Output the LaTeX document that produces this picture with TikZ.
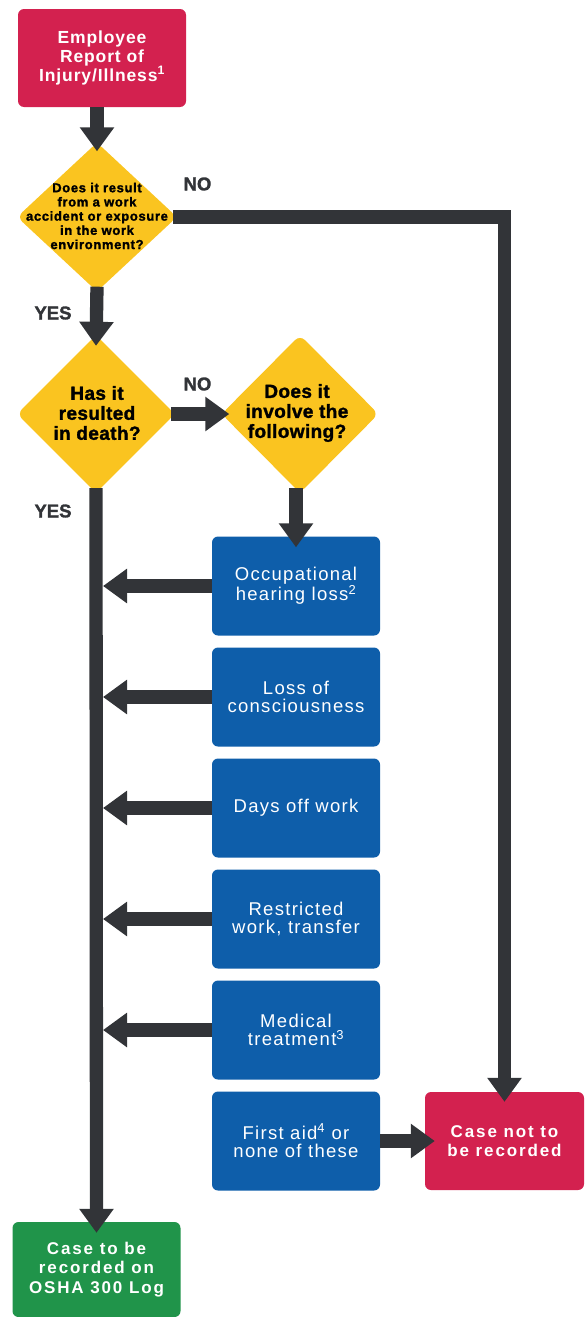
\documentclass[tikz,border=0pt]{standalone}
\usepackage{fontspec}
\setmainfont{Liberation Sans}
\usetikzlibrary{arrows.meta,shapes.geometric}

\definecolor{boxred}{RGB}{211,33,79}
\definecolor{boxyellow}{RGB}{250,196,32}
\definecolor{boxblue}{RGB}{14,94,170}
\definecolor{boxgreen}{RGB}{32,148,74}
\definecolor{arrowgray}{RGB}{50,52,56}

\newcommand\startfont{\fontsize{17.5}{18.7}\bfseries\selectfont\addfontfeature{LetterSpace=5}}
\newcommand\qsmallfont{\fontsize{13}{14.2}\bfseries\selectfont\addfontfeature{LetterSpace=5,FakeBold=1.5}}
\newcommand\qbigfont{\fontsize{19}{20}\bfseries\selectfont\addfontfeature{LetterSpace=2,FakeBold=1.5}}
\newcommand\itemfont{\fontsize{18.5}{18.7}\selectfont\addfontfeature{LetterSpace=7}}
\newcommand\outcomefont{\fontsize{17}{19.5}\bfseries\selectfont\addfontfeature{LetterSpace=11}}
\newcommand\answerfont{\fontsize{18.5}{19}\bfseries\selectfont\addfontfeature{FakeBold=1.5}}

\tikzset{
  every node/.style={inner sep=0pt, align=center},
  redbox/.style={fill=boxred, rounded corners=6pt, text=white,
    minimum width=159pt, minimum height=98pt, font=\outcomefont},
  startbox/.style={redbox, minimum width=168pt, font=\startfont},
  bluebox/.style={fill=boxblue, rounded corners=6pt, text=white,
    minimum width=168pt, minimum height=99pt, font=\itemfont},
  greenbox/.style={fill=boxgreen, rounded corners=6pt, text=white,
    minimum width=168pt, minimum height=95pt, font=\outcomefont},
  decision/.style={diamond, fill=boxyellow, rounded corners=7pt},
  qsmall/.style={text=black, font=\qsmallfont},
  qbig/.style={text=black, font=\qbigfont},
  answer/.style={text=arrowgray, font=\answerfont},
  flow/.style={draw=arrowgray, line width=13.3pt, line join=miter,
    -{Triangle[width=33pt,length=24pt]}},
}

\begin{document}
\begin{tikzpicture}[x=1pt, y=-1pt]
  \useasboundingbox (0,0) rectangle (584,1317);

  % start and decisions
  \node[startbox] (start) at (102,58) {Employee\\Report of\\Injury/Illness\textsuperscript{1}};

  \node[decision, minimum width=160pt, minimum height=149pt] (d1) at (97,217) {};
  \node[qsmall] (d1t) at (97,216) {Does it result\\from a work\\accident or exposure\\in the work\\environment?};

  \node[decision, minimum width=158pt, minimum height=158pt] (d2) at (96,414) {};
  \node[qbig] (d2t) at (97,413) {Has it\\resulted\\in death?};

  \node[decision, minimum width=157pt, minimum height=158pt] (d3) at (300,414) {};
  \node[qbig] (d3t) at (297,413) {Does it\\involve the\\following?};

  % answer labels
  \node[answer] (no1) at (197.5,184) {NO};
  \node[answer] (yes1) at (53,313) {YES};
  \node[answer] (no2) at (197.5,384) {NO};
  \node[answer] (yes2) at (53,511) {YES};

  % listed conditions
  \node[bluebox] (b1) at (296,586) {Occupational\\hearing loss\textsuperscript{2}};
  \node[bluebox] (b2) at (296,697) {Loss of\\consciousness};
  \node[bluebox] (b3) at (296,808) {Days off work};
  \node[bluebox] (b4) at (296,919) {Restricted\\work, transfer};
  \node[bluebox] (b5) at (296,1030) {Medical\\treatment\textsuperscript{3}};
  \node[bluebox] (b6) at (296,1141) {First aid\textsuperscript{4} or\\none of these};

  % outcomes
  \node[redbox] (norec) at (504.5,1141) {Case not to\\be recorded};
  \node[greenbox] (rec) at (96.5,1269.5) {Case to be\\recorded on\\OSHA 300 Log};

  % connectors
  \coordinate (spine) at ([xshift=7pt]d2.south);
  \draw[flow] (start.south -| d1.north) -- ([yshift=-9pt]d1.north);
  \draw[flow] ([yshift=5pt]d1.south) -- ([yshift=-11pt]d2.north);
  \draw[flow] ([xshift=-4pt]d1.east) -- (d1.east -| norec.north) -- ([yshift=-10pt]norec.north);
  \draw[flow] ([xshift=-4pt]d2.east) -- ([xshift=8pt]d3.west);
  \draw[flow] ([yshift=5pt]d2.south) -- ([yshift=-11pt]rec.north);
  \draw[flow] ([yshift=5pt]d3.south -| b1.north) -- ([yshift=-11pt]b1.north);
  \foreach \b in {b1,b2,b3,b4,b5} {
    \draw[flow] (\b.west) -- (\b.west -| spine);
  }
  \draw[flow] (b6.east) -- ([xshift=10pt]norec.west);
\end{tikzpicture}
\end{document}
